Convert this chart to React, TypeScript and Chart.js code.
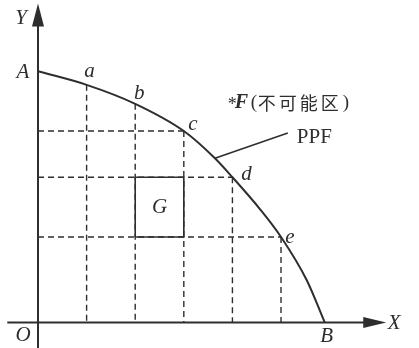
import React, { useEffect, useRef } from "react";
import { Chart, registerables } from "chart.js";

Chart.register(...registerables);

// Labelled points on the PPF: A, a, b, c, d, e, B
const pointLabels = ["A", "a", "b", "c", "d", "e", "B"];
const pointX = [0, 1, 2, 3, 4, 5, 5.9];
const pointY = [5.17, 4.89, 4.5, 3.94, 2.99, 1.76, 0];

// PPF curve (labelled points plus readings in between)
const frontierX = [0, 1, 2, 3, 3.64, 4, 4.57, 5, 5.53, 5.9];
const frontierY = [5.17, 4.89, 4.5, 3.94, 3.38, 2.99, 2.33, 1.76, 0.87, 0];

// G box (combination inside the frontier)
const boxX = [2, 3];
const boxY = [1.76, 2.99];

// PPF leader line
const leaderX = [3.64, 5.14];
const leaderY = [3.38, 3.9];

const xRange = [-0.782, 7.839];
const yRange = [-0.524, 6.636];
const axisXEnd = 7.0;
const axisYEnd = 6.4;

const INK = "#2e2e2e";

type Pt = { x: number; y: number };

function pts(xs: number[], ys: number[]): Pt[] {
  return xs.map((x, i) => ({ x, y: ys[i] }));
}

const App: React.FC = () => {
  const ref = useRef<HTMLCanvasElement | null>(null);

  useEffect(() => {
    document.body.style.margin = "0";
    const canvas = ref.current;
    if (!canvas) return;

    const dashed = { borderColor: INK, borderWidth: 1.4, borderDash: [6, 4], pointRadius: 0, fill: false, tension: 0 };
    const solid = { borderColor: INK, borderWidth: 1.8, pointRadius: 0, fill: false, tension: 0 };

    const datasets: any[] = [];
    // vertical dashed lines from points a..e down to axis
    for (let i = 1; i <= 5; i++) {
      datasets.push({ ...dashed, data: [{ x: pointX[i], y: pointY[i] }, { x: pointX[i], y: 0 }] });
    }
    // horizontal dashed lines from c, d, e to Y axis
    for (let i = 3; i <= 5; i++) {
      datasets.push({ ...dashed, data: [{ x: 0, y: pointY[i] }, { x: pointX[i], y: pointY[i] }] });
    }
    // G box
    datasets.push({
      ...solid,
      borderWidth: 1.6,
      data: [
        { x: boxX[0], y: boxY[0] },
        { x: boxX[1], y: boxY[0] },
        { x: boxX[1], y: boxY[1] },
        { x: boxX[0], y: boxY[1] },
        { x: boxX[0], y: boxY[0] },
      ],
    });
    // axes
    datasets.push({ ...solid, borderWidth: 2, data: [{ x: xRange[0] + 0.15, y: 0 }, { x: axisXEnd, y: 0 }] });
    datasets.push({ ...solid, borderWidth: 2, data: [{ x: 0, y: yRange[0] }, { x: 0, y: axisYEnd }] });
    // leader
    datasets.push({ ...solid, borderWidth: 1.6, data: pts(leaderX, leaderY) });
    // PPF curve
    datasets.push({
      borderColor: INK,
      borderWidth: 2,
      pointRadius: 0,
      fill: false,
      cubicInterpolationMode: "monotone",
      data: pts(frontierX, frontierY),
    });

    const annotate = {
      id: "annotate",
      afterDatasetsDraw(chart: any) {
        const { ctx, scales } = chart;
        const X = (v: number) => scales.x.getPixelForValue(v);
        const Y = (v: number) => scales.y.getPixelForValue(v);
        ctx.save();
        ctx.fillStyle = INK;
        // arrowheads
        const ox = X(0), oy = Y(0);
        const xt = X(axisXEnd) + 8, yt = Y(axisYEnd) - 8;
        ctx.beginPath();
        ctx.moveTo(xt, oy);
        ctx.lineTo(xt - 23, oy - 5.5);
        ctx.lineTo(xt - 23, oy + 5.5);
        ctx.closePath();
        ctx.fill();
        ctx.beginPath();
        ctx.moveTo(ox, yt);
        ctx.lineTo(ox - 6, yt + 23);
        ctx.lineTo(ox + 6, yt + 23);
        ctx.closePath();
        ctx.fill();

        ctx.textAlign = "center";
        ctx.textBaseline = "middle";
        ctx.font = "italic 21px 'Liberation Serif', 'DejaVu Serif', serif";
        // axis labels
        ctx.fillText("Y", ox - 17, yt + 15);
        ctx.fillText("X", xt + 8, oy + 1);
        ctx.fillText("O", ox - 15, oy + 13);
        // point labels
        const offs: [number, number][] = [
          [-15, 1],
          [3, -13],
          [4, -10],
          [9, -7],
          [14, -3],
          [9, 0],
          [2, 14],
        ];
        pointLabels.forEach((t, i) => {
          ctx.fillText(t, X(pointX[i]) + offs[i][0], Y(pointY[i]) + offs[i][1]);
        });
        // G
        ctx.fillText("G", (X(boxX[0]) + X(boxX[1])) / 2, (Y(boxY[0]) + Y(boxY[1])) / 2);

        // *F(不可能区)
        const bx = X(leaderX[1]) - 60;
        const by = Y(leaderY[1]) - 30;
        ctx.textAlign = "left";
        ctx.font = "18px 'Liberation Serif', serif";
        ctx.fillText("*", bx, by + 2);
        ctx.font = "bold italic 20px 'Liberation Serif', serif";
        ctx.fillText("F", bx + 7, by);
        ctx.font = "19px 'Liberation Serif', serif";
        ctx.fillText("(", bx + 23, by);
        ctx.font = "18px 'Noto Sans CJK SC', sans-serif";
        ["不", "可", "能", "区"].forEach((c, i) => ctx.fillText(c, bx + 30 + i * 21, by));
        ctx.font = "19px 'Liberation Serif', serif";
        ctx.fillText(")", bx + 115, by);
        // PPF
        ctx.font = "21px 'Liberation Serif', serif";
        ctx.fillText("PPF", X(leaderX[1]) + 9, Y(leaderY[1]) + 5);
        ctx.restore();
      },
    };

    const chart = new Chart(canvas, {
      type: "line",
      data: { datasets },
      options: {
        animation: false,
        responsive: false,
        maintainAspectRatio: false,
        layout: { padding: 0 },
        plugins: { legend: { display: false }, tooltip: { enabled: false } },
        scales: {
          x: { type: "linear", display: false, min: xRange[0], max: xRange[1] },
          y: { type: "linear", display: false, min: yRange[0], max: yRange[1] },
        },
      },
      plugins: [annotate],
    });
    return () => chart.destroy();
  }, []);

  return (
    <div style={{ width: 419, height: 348, background: "#fff" }}>
      <canvas ref={ref} width={419} height={348} style={{ display: "block" }} />
    </div>
  );
};

export default App;
